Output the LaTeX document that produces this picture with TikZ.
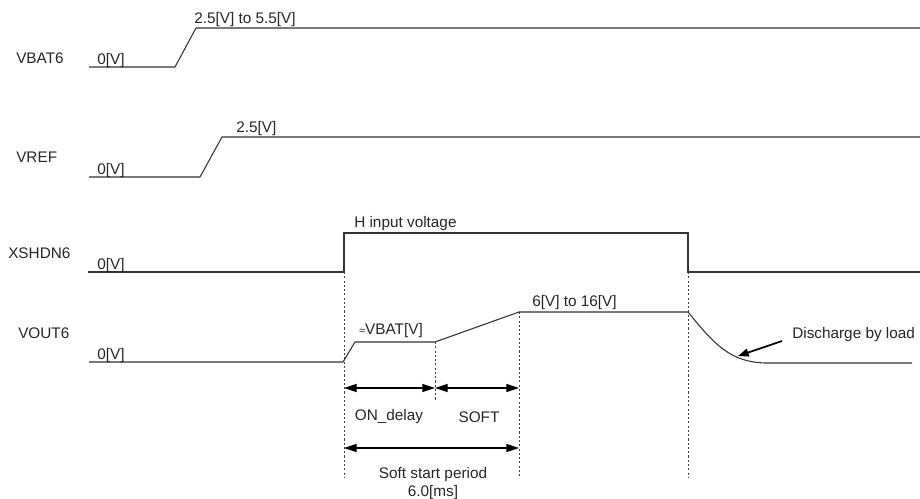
\documentclass[tikz,border=0pt]{standalone}
\usepackage{fontspec}
\setmainfont{Liberation Sans}
\usetikzlibrary{arrows.meta}
\begin{document}
\begin{tikzpicture}[x=0.75pt,y=-0.75pt,
  every node/.style={font=\fontsize{11.5pt}{13.5pt}\selectfont,inner sep=0pt,text=black!85},
  sig/.style={line width=0.8pt,draw=black!80},
  guide/.style={line width=0.6pt,draw=black!75,dash pattern=on 1.6pt off 1.6pt},
  dimarrow/.style={line width=0.8pt,draw=black,{Triangle[length=9.5pt,width=6pt]}-{Triangle[length=9.5pt,width=6pt]}},
  callout/.style={line width=1.3pt,draw=black,-{Triangle[length=8pt,width=6pt]}}]
\useasboundingbox (0,0) rectangle (920,499);

% labels of signals
\node[anchor=west] (lvbat) at (16,58) {VBAT6};
\node[anchor=west] (lvref) at (16,157) {VREF};
\node[anchor=west] (lxsh) at (8,253) {XSHDN6};
\node[anchor=west] (lvout) at (18,333) {VOUT6};

% VBAT6
\coordinate (b0) at (89,67);
\coordinate (b1) at (175,67);
\coordinate (b2) at (196,28);
\coordinate (b3) at (920,28);
\draw[sig] (b0) -- (b1) -- (b2) -- (b3);
\node[anchor=west] (vb0) at (97,61) {0[V]};
\node[anchor=west] (vbh) at (194,20) {2.5[V] to 5.5[V]};

% VREF
\coordinate (r0) at (89,177);
\coordinate (r1) at (200,177);
\coordinate (r2) at (222,137);
\coordinate (r3) at (920,137);
\draw[sig] (r0) -- (r1) -- (r2) -- (r3);
\node[anchor=west] (vr0) at (97,171) {0[V]};
\node[anchor=west] (vrh) at (236,129) {2.5[V]};

% XSHDN6
\coordinate (x0) at (88,272);
\coordinate (x1) at (344,272);
\coordinate (x2) at (344,233);
\coordinate (x3) at (688,233);
\coordinate (x4) at (688,272);
\coordinate (x5) at (920,272);
\draw[sig] (x0) -- (x1) -- (x2) -- (x3) -- (x4) -- (x5);
\node[anchor=west] (vx0) at (97,266) {0[V]};
\node[anchor=west] (vxh) at (354,224) {H input voltage};

% VOUT6
\coordinate (o0) at (89,362);
\coordinate (o1) at (343,362);
\coordinate (o2) at (355,342);
\coordinate (o3) at (435,342);
\coordinate (o4) at (519,312);
\coordinate (o5) at (688,312);
\coordinate (o6) at (765,363);
\coordinate (o7) at (912,363);
\draw[sig] (o0) -- (o1) -- (o2) -- (o3) -- (o4) -- (o5)
  .. controls (714,344) and (730,362) .. (o6) -- (o7);
\node[anchor=west] (vo0) at (97,356) {0[V]};
\node[anchor=west] (vobat) at (359,331) {{\fontsize{8pt}{9pt}\selectfont ≈}VBAT[V]};
\node[anchor=west] (voh) at (532,303) {6[V] to 16[V]};

% guide lines
\coordinate (g1a) at (344,272); \coordinate (g1b) at (344,478);
\coordinate (g2a) at (435,342); \coordinate (g2b) at (435,400);
\coordinate (g3a) at (519,312); \coordinate (g3b) at (519,476);
\coordinate (g4a) at (688,272); \coordinate (g4b) at (688,478);
\draw[guide] (g1a) -- (g1b);
\draw[guide] (g2a) -- (g2b);
\draw[guide] (g3a) -- (g3b);
\draw[guide] (g4a) -- (g4b);

% dimension arrows
\coordinate (d1a) at (344,388); \coordinate (d1b) at (435,388);
\coordinate (d2a) at (435,388); \coordinate (d2b) at (519,388);
\coordinate (d3a) at (344,448); \coordinate (d3b) at (519,448);
\draw[dimarrow] (d1a) -- (d1b);
\draw[dimarrow] (d2a) -- (d2b);
\draw[dimarrow] (d3a) -- (d3b);
\node (ton) at (389,417) {ON\_delay};
\node (tsoft) at (479,417) {SOFT};
\node[align=center] (tss) at (433,484) {Soft start period\\6.0[ms]};

% discharge callout
\node[anchor=west] (tdis) at (792,335) {Discharge by load};
\coordinate (ca) at (782,341);
\coordinate (cb) at (738,356);
\draw[callout] (ca) -- (cb);
\end{tikzpicture}
\end{document}
